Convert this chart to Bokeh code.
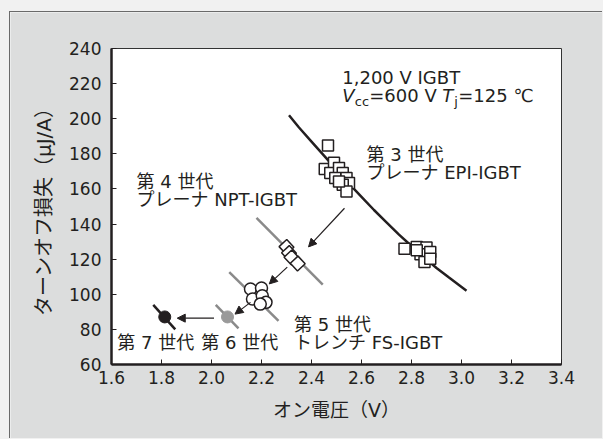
import re
from bokeh.plotting import figure
from bokeh.models import ColumnDataSource, Arrow, NormalHead, FixedTicker
from bokeh.core.properties import value
from bokeh.embed import file_html
from bokeh.resources import INLINE

# ---------------- data ----------------
x_ticks = [1.6, 1.8, 2.0, 2.2, 2.4, 2.6, 2.8, 3.0, 3.2, 3.4]
x_tick_labels = ["1.6", "1.8", "2.0", "2.2", "2.4", "2.6", "2.8", "3.0", "3.2", "3.4"]
y_ticks = [60, 80, 100, 120, 140, 160, 180, 200, 220, 240]

# 3rd gen trade-off curve
curve_x = [2.31, 2.35, 2.40, 2.45, 2.50, 2.55, 2.60, 2.65, 2.70, 2.75, 2.80, 2.85, 2.90, 2.95, 3.02]
curve_y = [202, 195, 187, 179, 171, 163, 155.5, 148, 141, 134, 127.5, 121, 115, 109.5, 102]

# 3rd gen planar EPI-IGBT (squares)
gen3_x = [2.466, 2.453, 2.490, 2.475, 2.510, 2.525, 2.495, 2.540, 2.550, 2.525, 2.540, 2.510,
          2.772, 2.821, 2.860, 2.836, 2.875, 2.852, 2.875, 2.821]
gen3_y = [184.8, 171.4, 174.9, 169.1, 172.0, 169.1, 166.2, 166.2, 163.4, 162.4, 158.6, 164.3,
          126.0, 127.0, 126.6, 122.8, 124.1, 118.4, 120.3, 125.1]

# 4th gen planar NPT-IGBT
gen4_x = [2.300, 2.310, 2.320, 2.345]
gen4_y = [127.0, 123.5, 121.0, 117.5]
gen4_line_x = [2.180, 2.445]
gen4_line_y = [143.5, 105.5]

# 5th gen trench FS-IGBT
gen5_x = [2.156, 2.200, 2.164, 2.203, 2.218, 2.195]
gen5_y = [103.0, 103.6, 97.3, 99.2, 95.4, 94.4]
gen5_line_x = [2.071, 2.268]
gen5_line_y = [112.6, 84.9]

# 6th gen
gen6_x = [2.064]
gen6_y = [87.1]
gen6_line_x = [2.017, 2.108]
gen6_line_y = [94.0, 80.6]

# 7th gen
gen7_x = [1.813]
gen7_y = [87.1]
gen7_line_x = [1.767, 1.855]
gen7_line_y = [94.0, 80.0]

# arrows between generations
arrow_x0 = [2.532, 2.303, 2.156, 2.010]
arrow_y0 = [149.0, 115.5, 95.4, 86.4]
arrow_x1 = [2.388, 2.231, 2.094, 1.863]
arrow_y1 = [127.0, 105.9, 88.7, 86.4]

# labels
label_x = [2.523, 2.620, 2.620, 1.700, 1.700, 2.330, 2.330, 1.623, 1.959]
label_y = [223.5, 179.6, 169.5, 164.3, 154.0, 82.9, 72.5, 72.5, 72.5]
label_text = ["1,200 V IGBT", "第 3 世代", "プレーナ EPI-IGBT", "第 4 世代", "プレーナ NPT-IGBT",
              "第 5 世代", "トレンチ FS-IGBT", "第 7 世代", "第 6 世代"]

cond_x = 2.523
cond_y = 213.5

FONT = "DejaVu Sans, Noto Sans CJK JP"
TXT = "#231f20"

# ---------------- figure ----------------
p = figure(frame_width=450, frame_height=316,
           x_range=(1.6, 3.4), y_range=(60, 240),
           output_backend="svg", toolbar_location=None,
           min_border_left=101, min_border_right=41,
           min_border_top=36, min_border_bottom=74)

p.background_fill_color = "white"
p.border_fill_color = "#dcdddd"
p.outline_line_color = "#333333"
p.outline_line_width = 1
p.xgrid.visible = False
p.ygrid.visible = False

p.xaxis.ticker = FixedTicker(ticks=x_ticks)
p.xaxis.major_label_overrides = {t: l for t, l in zip(x_ticks, x_tick_labels)}
p.yaxis.ticker = FixedTicker(ticks=y_ticks)

for ax in (p.xaxis, p.yaxis):
    ax.axis_line_color = "#231f20"
    ax.axis_line_width = 2.5
    ax.major_tick_in = 5
    ax.major_tick_out = 0
    ax.major_tick_line_color = "#231f20"
    ax.major_tick_line_width = 1
    ax.minor_tick_line_color = None
    ax.major_label_text_font = "DejaVu Sans"
    ax.major_label_text_font_size = "17px"
    ax.major_label_text_color = TXT
    ax.axis_label_text_font = FONT
    ax.axis_label_text_font_style = "normal"
    ax.axis_label_text_color = TXT

p.xaxis.axis_label = "オン電圧（V）"
p.yaxis.axis_label = "ターンオフ損失（µJ/A）"
p.xaxis.axis_label_text_font_size = "19px"
p.yaxis.axis_label_text_font_size = "20px"
p.xaxis.major_label_standoff = 6
p.xaxis.axis_label_standoff = 12
p.yaxis.major_label_standoff = 10
p.yaxis.axis_label_standoff = 10

# gray guide lines
GRAY = "#8a8a8a"
p.line(gen4_line_x, gen4_line_y, line_color=GRAY, line_width=2.5)
p.line(gen5_line_x, gen5_line_y, line_color=GRAY, line_width=2.5)
p.line(gen6_line_x, gen6_line_y, line_color=GRAY, line_width=2.5)
p.line(gen7_line_x, gen7_line_y, line_color="#231f20", line_width=2.5)

# main curve
p.line(curve_x, curve_y, line_color="#231f20", line_width=2.5)

# markers
p.scatter(gen3_x, gen3_y, marker="square", size=11, fill_color="white",
          line_color="#231f20", line_width=1.5)
p.scatter(gen4_x, gen4_y, marker="square", size=10.5, angle=0.75, fill_color="white",
          line_color="#231f20", line_width=1.5)
p.scatter(gen5_x, gen5_y, marker="circle", size=12, fill_color="white",
          line_color="#231f20", line_width=1.5)
p.scatter(gen6_x, gen6_y, marker="circle", size=12, fill_color="#9a9a9a", line_color="#9a9a9a")
p.scatter(gen7_x, gen7_y, marker="circle", size=12, fill_color="#231f20", line_color="#231f20")

# arrows
arr_src = ColumnDataSource(dict(x0=arrow_x0, y0=arrow_y0, x1=arrow_x1, y1=arrow_y1))
p.add_layout(Arrow(end=NormalHead(size=8, fill_color="#231f20", line_color="#231f20", line_width=1),
                   x_start="x0", y_start="y0", x_end="x1", y_end="y1", source=arr_src,
                   line_color="#231f20", line_width=1.2))

# texts
p.text(x=label_x, y=label_y, text=label_text, text_font=value(FONT), text_font_size="18px",
       text_baseline="middle", text_align="left", text_color=TXT)

# V_cc=600 V T_j=125 ℃
p.text(x=[cond_x, cond_x], y=[cond_y, cond_y], text=["V", "T"], x_offset=[0, 100],
       text_font=value("DejaVu Sans"), text_font_style="italic", text_font_size="18px",
       text_baseline="middle", text_align="left", text_color=TXT)
p.text(x=[cond_x, cond_x], y=[cond_y, cond_y], text=["cc", "j"], x_offset=[12.5, 112], y_offset=6,
       text_font=value("DejaVu Sans"), text_font_size="13px",
       text_baseline="middle", text_align="left", text_color=TXT)
p.text(x=[cond_x, cond_x], y=[cond_y, cond_y], text=["=600 V", "=125 ℃"], x_offset=[27, 116],
       text_font=value(FONT), text_font_size="18px",
       text_baseline="middle", text_align="left", text_color=TXT)

p.styles = {"border-top": "1px solid #6a6a6a", "border-left": "1px solid #6a6a6a"}

html = file_html(p, INLINE)
page_css = ("<style>html{background-color:#f1f1f1 !important;}"
            "body{margin:0 !important;padding:11px 0 0 9px !important;"
            "background-color:#f1f1f1 !important;overflow:hidden !important;}</style>")
html = re.sub(r"</head>", lambda m: page_css + "</head>", html, count=1, flags=re.I)
open("out.html", "w").write(html)
